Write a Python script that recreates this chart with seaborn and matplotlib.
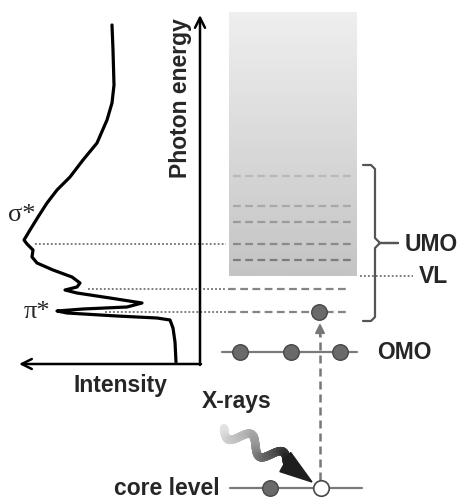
import numpy as np
import pandas as pd
import matplotlib
matplotlib.use("Agg")
import matplotlib.pyplot as plt
import seaborn as sns
from matplotlib.collections import LineCollection
from matplotlib.colors import LinearSegmentedColormap
from matplotlib.patches import Polygon

# ---- absorption spectrum: energy grows upward, intensity grows to the left ----
energy = [339, 314, 279, 261, 244, 221, 204, 187, 174, 161, 147, 134, 124, 120,
          114, 107, 101, 94, 87, 81, 77, 74, 71, 66, 61, 57, 55, 53, 51, 48, 46,
          44, 36, 22, 2]
intensity = [88, 87, 86, 88, 93, 103, 117, 130, 143, 153, 162, 170, 176, 173,
             167, 168, 163, 147, 128, 120, 123, 135, 123, 90, 58, 73, 117, 143,
             133, 83, 43, 30, 27, 25, 24]

# resonances and the intensity where their guide lines begin
resonance_energy = [120, 75, 52]
resonance_intensity = [165, 112, 95]
resonance_labels = ["σ*", "π*"]
resonance_label_energy = [149, 52]
resonance_label_x = [22, 37]

# ---- molecular level scheme (same energy scale) ----
umo_levels = [188, 158, 142, 120, 104]
umo_colors = ["#b8b8b8", "#a8a8a8", "#9a9a9a", "#8a8a8a", "#7c7c7c"]
bound_levels = [75, 52]
vacuum_level = 88
continuum_top = 352
omo_level = 12
omo_electrons = [240, 291, 340]
core_level = -124
core_electron = 270
core_hole = 321
excited_electron = 319

# layout in figure pixels
W, H = 461, 498
AXIS_X = 200           # position of the energy axis
E_MIN, E_MAX = -134, 364

sns.set_theme(style="white")
plt.rcParams["font.family"] = ["Liberation Sans", "DejaVu Sans"]

fig = plt.figure(figsize=(W / 100, H / 100), dpi=100)

# spectrum axes: left part of the figure, x inverted so intensity points left
ax_s = fig.add_axes([0, 0, AXIS_X / W, 1])
spec = pd.DataFrame({"intensity": intensity, "energy": energy})
sns.lineplot(data=spec, x="intensity", y="energy", sort=False, estimator=None,
             color="black", lw=2.3, ax=ax_s)
ax_s.set_xlim(AXIS_X, 0)
ax_s.set_ylim(E_MIN, E_MAX)
ax_s.set_axis_off()

# overlay axes: whole figure, x in pixels, y in energy units
ax = fig.add_axes([0, 0, 1, 1])
ax.patch.set_alpha(0)
ax.set_axis_off()

def sx(i):
    """intensity -> horizontal position in the overlay"""
    return AXIS_X - i

# axes arrows
ax.annotate("", xy=(AXIS_X, 349), xytext=(AXIS_X, -1),
            arrowprops=dict(arrowstyle="->", lw=1.8, color="black",
                            mutation_scale=18, shrinkA=0, shrinkB=0))
ax.annotate("", xy=(19, 0), xytext=(AXIS_X + 1, 0),
            arrowprops=dict(arrowstyle="->", lw=1.8, color="black",
                            mutation_scale=18, shrinkA=0, shrinkB=0))
ax.text(180, 266, "Photon energy", rotation=90, ha="center", va="center",
        fontsize=16.5, fontweight="bold")
ax.text(120, -21, "Intensity", ha="center", va="center",
        fontsize=16.5, fontweight="bold")
for lab, e, x in zip(resonance_labels, resonance_label_energy, resonance_label_x):
    ax.text(x, e, lab, ha="center", va="center", fontsize=19,
            family=["Liberation Serif", "DejaVu Serif"])

# continuum block with gradient
cmap = LinearSegmentedColormap.from_list("cont", ["#c4c4c4", "#efefef"])
ax.imshow(np.linspace(0, 1, 256).reshape(-1, 1), cmap=cmap, origin="lower",
          extent=(229, 357, vacuum_level, continuum_top), aspect="auto", zorder=1)

# dotted guides from the resonances to the levels
for e, i in zip(resonance_energy, resonance_intensity):
    ax.plot([sx(i), 226], [e, e], color="#707070", lw=1.3,
            linestyle=(0, (1, 1.2)), zorder=2)
ax.plot([360, 413], [vacuum_level, vacuum_level], color="#707070", lw=1.3,
        linestyle=(0, (1, 1.2)), zorder=2)

# unoccupied levels
for e, c in zip(umo_levels, umo_colors):
    ax.plot([233, 355], [e, e], color=c, lw=1.6, linestyle=(0, (3.5, 2)), zorder=3)
for e in bound_levels:
    ax.plot([228, 350], [e, e], color="#858585", lw=1.6,
            linestyle=(0, (3.5, 2)), zorder=3)

# occupied levels
ax.plot([222, 357], [omo_level, omo_level], color="#7a7a7a", lw=1.6, zorder=3)
ax.plot([230, 362], [core_level, core_level], color="#7a7a7a", lw=1.6, zorder=3)

# excitation: dashed path from the core hole to the lowest unoccupied level
ax.plot([core_hole - 1, core_hole - 1], [core_level + 8, bound_levels[1] - 22],
        color="#777777", lw=1.8, linestyle=(0, (3.2, 2)), zorder=3)
ax.annotate("", xy=(core_hole - 1, bound_levels[1] - 11),
            xytext=(core_hole - 1, bound_levels[1] - 24),
            arrowprops=dict(arrowstyle="-|>", lw=1.5, color="#777777",
                            mutation_scale=14, shrinkA=0, shrinkB=0), zorder=4)

# electrons
dots = pd.DataFrame({
    "x": omo_electrons + [core_electron, excited_electron],
    "e": [omo_level] * len(omo_electrons) + [core_level, bound_levels[1]],
})
sns.scatterplot(data=dots, x="x", y="e", s=125, color="#6a6a6a",
                edgecolor="#474747", linewidth=1.0, ax=ax, zorder=5, legend=False)
ax.scatter([core_hole], [core_level], s=125, facecolor="white",
           edgecolor="#474747", linewidth=1.2, zorder=5)

# bracket spanning the unoccupied states
br_px = [(363, 165), (371, 165), (375, 169), (375, 238), (380, 243), (398, 243),
         (380, 243), (375, 248), (375, 317), (371, 321), (363, 321)]
ax.plot([p[0] for p in br_px], [E_MAX - p[1] for p in br_px],
        color="#555555", lw=1.6, solid_joinstyle="round", zorder=3)

ax.text(431, 120, "UMO", ha="center", va="center", fontsize=16.5, fontweight="bold")
ax.text(433, vacuum_level, "VL", ha="center", va="center", fontsize=16.5, fontweight="bold")
ax.text(404, omo_level, "OMO", ha="center", va="center", fontsize=16.5, fontweight="bold")
ax.text(237, -37, "X-rays", ha="center", va="center", fontsize=16.5, fontweight="bold")
ax.text(220, core_level, "core level", ha="right", va="center",
        fontsize=16.5, fontweight="bold")

# wavy X-ray photon (pixel geometry, converted to the energy scale)
S = np.array([224.0, 428.0])
E = np.array([287.0, 463.0])
T = np.array([312.0, 482.0])
d = E - S
u = d / np.linalg.norm(d)
n = np.array([-u[1], u[0]])
t = np.linspace(0, 1, 240)
pts = S + np.outer(t, d) + np.outer(8.0 * np.sin(2 * np.pi * 2.0 * t), n)
pts[:, 1] = E_MAX - pts[:, 1]
segs = np.stack([pts[:-1], pts[1:]], axis=1)
wave_cmap = LinearSegmentedColormap.from_list("wave", ["#e6e6e6", "#9a9a9a", "#1e1e1e"])
lc = LineCollection(segs, colors=wave_cmap(t[:-1]), linewidths=6.0,
                    capstyle="round", zorder=4)
ax.add_collection(lc)
head = np.array([T, E + 11 * n - 2 * u, E - 11 * n - 2 * u])
head[:, 1] = E_MAX - head[:, 1]
ax.add_patch(Polygon(head, closed=True, color="#1e1e1e", zorder=4))

ax.set_xlim(0, W)
ax.set_ylim(E_MIN, E_MAX)

fig.savefig("out.png", dpi=100)
